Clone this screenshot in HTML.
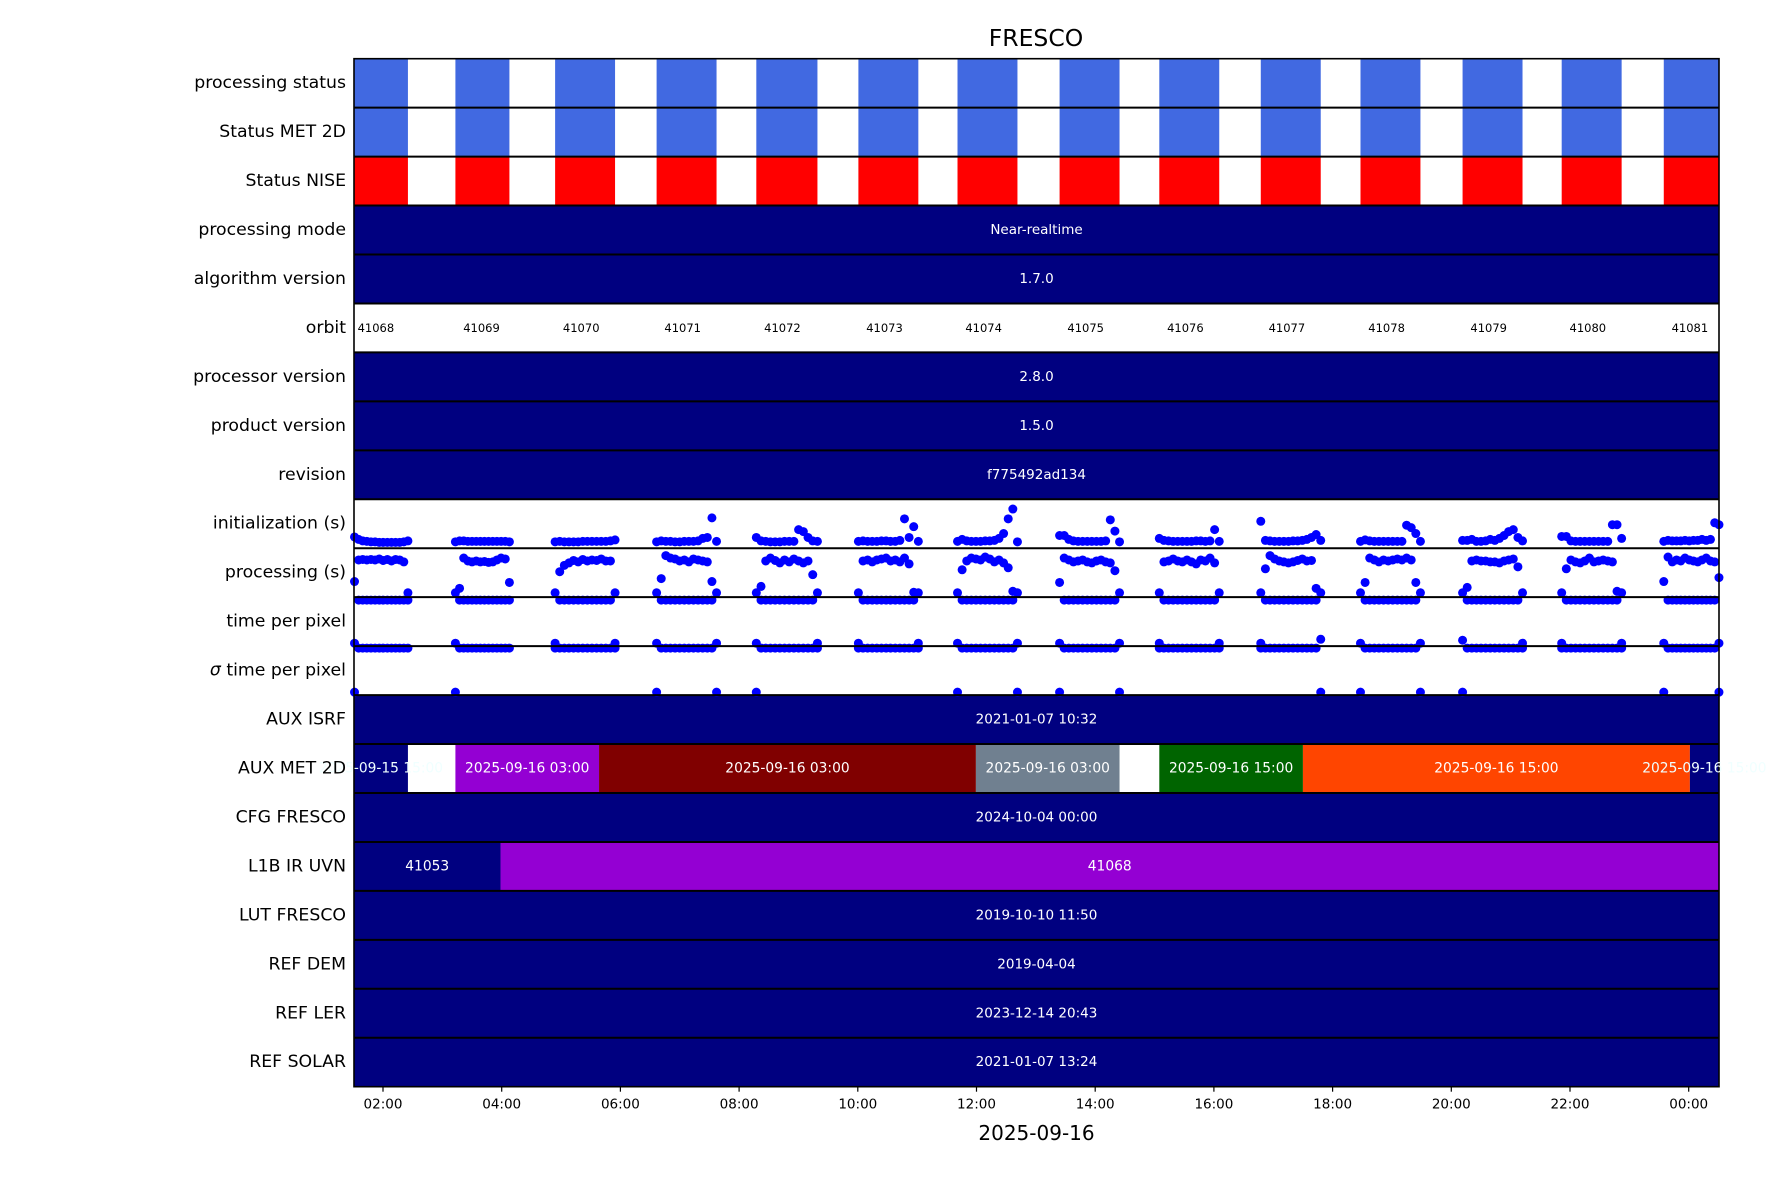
<!DOCTYPE html>
<html><head><meta charset="utf-8">
<style>
html,body{margin:0;padding:0;background:#fff;}
svg{display:block;font-family:"DejaVu Sans","Liberation Sans",sans-serif;}
</style></head>
<body>
<svg id="chart" width="1771" height="1181" viewBox="0 0 1771 1181" xmlns="http://www.w3.org/2000/svg">
<defs><clipPath id="plotclip"><rect x="354" y="58.7" width="1365" height="1028"/></clipPath></defs>
<text x="1036" y="46" font-size="23.5" text-anchor="middle">FRESCO</text>
<g id="bars" clip-path="url(#plotclip)"></g>
<g id="dots"></g>
<g id="overlay"></g>
</svg>
<script>
const rowLabels = ["processing status","Status MET 2D","Status NISE","processing mode","algorithm version","orbit","processor version","product version","revision","initialization (s)","processing (s)","time per pixel","σ time per pixel","AUX ISRF","AUX MET 2D","CFG FRESCO","L1B IR UVN","LUT FRESCO","REF DEM","REF LER","REF SOLAR"];
const tickHours = [2,4,6,8,10,12,14,16,18,20,22,24];
const tickLabels = ["02:00","04:00","06:00","08:00","10:00","12:00","14:00","16:00","18:00","20:00","22:00","00:00"];
const orbitNumbers = [41068,41069,41070,41071,41072,41073,41074,41075,41076,41077,41078,41079,41080,41081];
const orbitStarts = [1.42,3.22,4.90,6.61,8.29,10.01,11.68,13.40,15.08,16.79,18.47,20.19,21.86,23.58];
const orbitEnds = [2.42,4.13,5.91,7.62,9.32,11.02,12.69,14.41,16.09,17.80,19.48,21.20,22.87,24.57];
const singleRows = [[3,"Near-realtime"],[4,"1.7.0"],[6,"2.8.0"],[7,"1.5.0"],[8,"f775492ad134"],[13,"2021-01-07 10:32"],[15,"2024-10-04 00:00"],[17,"2019-10-10 11:50"],[18,"2019-04-04"],[19,"2023-12-14 20:43"],[20,"2021-01-07 13:24"]];
const metStarts = [1.42,3.22,5.64,11.99,15.08,17.50,24.02];
const metEnds = [2.42,5.64,11.99,14.41,17.50,24.02,24.60];
const metLabels = ["2025-09-15 15:00","2025-09-16 03:00","2025-09-16 03:00","2025-09-16 03:00","2025-09-16 15:00","2025-09-16 15:00","2025-09-16 15:00"];
const metColors = ["#000080","#9400d3","#800000","#708090","#006400","#ff4500","#000080"];
const l1bStarts = [1.42,3.98];
const l1bEnds = [3.98,24.60];
const l1bLabels = ["41053","41068"];
const l1bColors = ["#000080","#9400d3"];
const sampleFrac = [0,0.077,0.154,0.231,0.308,0.385,0.462,0.538,0.615,0.692,0.769,0.846,0.923,1];
const initVals = [
[.23,.18,.15,.14,.13,.13,.12,.12,.12,.12,.12,.12,.13,.15],
[.13,.15,.15,.14,.14,.14,.14,.14,.14,.14,.14,.14,.14,.13],
[.13,.14,.13,.13,.13,.13,.14,.14,.14,.14,.14,.14,.15,.17],
[.13,.15,.14,.14,.13,.13,.14,.14,.14,.15,.20,.22,.62,.14],
[.22,.15,.14,.13,.13,.13,.14,.14,.14,.38,.34,.22,.15,.14],
[.14,.15,.14,.14,.14,.15,.15,.14,.14,.16,.60,.22,.44,.14],
[.14,.18,.15,.14,.14,.14,.15,.15,.16,.20,.30,.60,.80,.13],
[.26,.26,.18,.15,.14,.14,.14,.14,.14,.14,.15,.58,.35,.13],
[.20,.16,.15,.14,.14,.14,.14,.14,.15,.15,.14,.15,.38,.14],
[.55,.16,.15,.14,.14,.14,.14,.15,.15,.16,.18,.22,.28,.16],
[.14,.17,.15,.14,.14,.14,.14,.14,.14,.14,.47,.42,.30,.14],
[.16,.16,.18,.14,.14,.15,.18,.16,.20,.26,.34,.38,.22,.15],
[.24,.24,.15,.14,.14,.14,.14,.14,.14,.14,.14,.48,.48,.20],
[.14,.16,.15,.15,.15,.16,.15,.16,.16,.18,.16,.18,.52,.48]];
const procVals = [
[.32,.76,.77,.76,.77,.76,.78,.75,.77,.74,.77,.76,.72,.09],
[.09,.18,.80,.74,.72,.74,.72,.73,.71,.72,.76,.80,.78,.30],
[.09,.52,.65,.70,.75,.72,.77,.74,.76,.75,.78,.74,.74,.09],
[.09,.38,.85,.80,.78,.74,.76,.72,.78,.76,.74,.72,.32,.09],
[.09,.22,.74,.80,.75,.70,.76,.72,.78,.74,.70,.74,.46,.09],
[.09,.74,.76,.72,.76,.78,.80,.74,.76,.72,.80,.68,.10,.09],
[.09,.56,.74,.80,.78,.76,.82,.78,.72,.76,.70,.60,.12,.09],
[.30,.80,.76,.72,.74,.76,.72,.70,.74,.76,.72,.70,.54,.09],
[.09,.72,.74,.78,.74,.72,.76,.72,.68,.76,.74,.80,.70,.09],
[.09,.58,.85,.78,.74,.72,.70,.72,.75,.78,.74,.75,.18,.09],
[.09,.30,.80,.76,.72,.76,.74,.76,.78,.76,.80,.76,.30,.09],
[.09,.20,.74,.76,.74,.74,.72,.72,.70,.74,.76,.78,.62,.09],
[.09,.58,.76,.72,.70,.74,.80,.72,.74,.76,.74,.72,.12,.09],
[.32,.82,.72,.76,.74,.80,.76,.74,.72,.76,.80,.74,.72,.40]];
const tppVals = [
[.06,.94,.94,.94,.94,.94,.94,.94,.94,.94,.94,.94,.94,.94],
[.06,.94,.94,.94,.94,.94,.94,.94,.94,.94,.94,.94,.94,.94],
[.06,.94,.94,.94,.94,.94,.94,.94,.94,.94,.94,.94,.94,.06],
[.06,.94,.94,.94,.94,.94,.94,.94,.94,.94,.94,.94,.94,.06],
[.06,.94,.94,.94,.94,.94,.94,.94,.94,.94,.94,.94,.94,.06],
[.06,.94,.94,.94,.94,.94,.94,.94,.94,.94,.94,.94,.94,.06],
[.06,.94,.94,.94,.94,.94,.94,.94,.94,.94,.94,.94,.94,.06],
[.06,.94,.94,.94,.94,.94,.94,.94,.94,.94,.94,.94,.94,.06],
[.06,.94,.94,.94,.94,.94,.94,.94,.94,.94,.94,.94,.94,.06],
[.06,.94,.94,.94,.94,.94,.94,.94,.94,.94,.94,.94,.94,.14],
[.06,.94,.94,.94,.94,.94,.94,.94,.94,.94,.94,.94,.94,.06],
[.12,.94,.94,.94,.94,.94,.94,.94,.94,.94,.94,.94,.94,.06],
[.06,.94,.94,.94,.94,.94,.94,.94,.94,.94,.94,.94,.94,.06],
[.06,.94,.94,.94,.94,.94,.94,.94,.94,.94,.94,.94,.94,.06]];
const sigmaVals = [
[.06,.96,.96,.96,.96,.96,.96,.96,.96,.96,.96,.96,.96,.96],
[.06,.96,.96,.96,.96,.96,.96,.96,.96,.96,.96,.96,.96,.96],
[.96,.96,.96,.96,.96,.96,.96,.96,.96,.96,.96,.96,.96,.96],
[.06,.96,.96,.96,.96,.96,.96,.96,.96,.96,.96,.96,.96,.06],
[.06,.96,.96,.96,.96,.96,.96,.96,.96,.96,.96,.96,.96,.96],
[.96,.96,.96,.96,.96,.96,.96,.96,.96,.96,.96,.96,.96,.96],
[.06,.96,.96,.96,.96,.96,.96,.96,.96,.96,.96,.96,.96,.06],
[.06,.96,.96,.96,.96,.96,.96,.96,.96,.96,.96,.96,.96,.06],
[.96,.96,.96,.96,.96,.96,.96,.96,.96,.96,.96,.96,.96,.96],
[.96,.96,.96,.96,.96,.96,.96,.96,.96,.96,.96,.96,.96,.06],
[.06,.96,.96,.96,.96,.96,.96,.96,.96,.96,.96,.96,.96,.06],
[.06,.96,.96,.96,.96,.96,.96,.96,.96,.96,.96,.96,.96,.96],
[.96,.96,.96,.96,.96,.96,.96,.96,.96,.96,.96,.96,.96,.96],
[.06,.96,.96,.96,.96,.96,.96,.96,.96,.96,.96,.96,.96,.06]];

const NS="http://www.w3.org/2000/svg";
const PL=354, PR=1719, PT=58.7, PB=1086.7, RH=(PB-PT)/21;
function xScale(t){return 383+(t-2)*59.35;}
function rowTop(i){return PT+i*RH;}
function yRow(i,v){return rowTop(i)+RH-v*RH;}
function mk(tag,attrs,parent){const e=document.createElementNS(NS,tag);for(const k in attrs)e.setAttribute(k,attrs[k]);parent.appendChild(e);return e;}
const bars=document.getElementById('bars'), dots=document.getElementById('dots'), ov=document.getElementById('overlay');

function seg(row,t0,t1,color,name){
  const x0=Math.max(xScale(t0),PL-2), x1=Math.min(xScale(t1),PR+2);
  const r=mk('rect',{x:x0,y:rowTop(row),width:x1-x0,height:RH,fill:color},bars);
  
  
}
function label(x,y,txt,fill,size,name){
  const t=mk('text',{x:x,y:y,'font-size':size,'text-anchor':'middle','dominant-baseline':'central',fill:fill},ov);
  t.textContent=txt;
  
  
}
const statusColors=["#4169e1","#4169e1","#ff0000"];
for(let r=0;r<3;r++){
  for(let i=0;i<orbitStarts.length;i++){
    seg(r,orbitStarts[i],orbitEnds[i],statusColors[r],'status-block');
  }
}
singleRows.forEach(([r,txt])=>{
  seg(r,1.0,25,"#000080",'value-bar');
});
for(let i=0;i<metStarts.length;i++) seg(14,metStarts[i],metEnds[i],metColors[i],'aux-met-segment');
for(let i=0;i<l1bStarts.length;i++) seg(16,l1bStarts[i],l1bEnds[i],l1bColors[i],'l1b-segment');

const scatterSets=[[9,initVals],[10,procVals],[11,tppVals],[12,sigmaVals]];
scatterSets.forEach(([row,vals])=>{
  for(let o=0;o<orbitStarts.length;o++){
    const s=Math.max(orbitStarts[o],1.52), e=Math.min(orbitEnds[o],24.51);
    vals[o].forEach((v,k)=>{
      const t=s+sampleFrac[k]*(e-s);
      const c=mk('circle',{cx:xScale(t),cy:yRow(row,v),r:4.5,fill:"#0000ff"},dots);
      
      
    });
  }
});

for(let i=1;i<21;i++){
  const l=mk('line',{x1:PL,x2:PR,y1:rowTop(i),y2:rowTop(i),stroke:"#000","stroke-width":2},ov);
  
  
}
const frame=mk('rect',{x:PL,y:PT,width:PR-PL,height:PB-PT,fill:"none",stroke:"#000","stroke-width":1.6},ov);



const midX=(PL+PR)/2;
singleRows.forEach(([r,txt])=>label(midX,rowTop(r)+RH/2,txt,"#fff",13.5,'bar-value-label'));
for(let i=0;i<metStarts.length;i++){
  const a=Math.max(metStarts[i],1.51), b=Math.min(metEnds[i],24.51);
  const col=(i===0||i===metStarts.length-1)?"#f0ffff":"#fff";
  label(xScale((a+b)/2),rowTop(14)+RH/2,metLabels[i],col,13.8,'aux-met-label');
}
for(let i=0;i<l1bStarts.length;i++){
  const a=Math.max(l1bStarts[i],1.51), b=Math.min(l1bEnds[i],24.51);
  label(xScale((a+b)/2),rowTop(16)+RH/2,l1bLabels[i],"#fff",13.8,'l1b-label');
}
for(let i=0;i<orbitNumbers.length;i++){
  label(xScale(orbitStarts[i]+0.44+(i===0?0.02:0)),rowTop(5)+RH/2,String(orbitNumbers[i]),"#000",11.5,'orbit-number');
}
rowLabels.forEach((txt,i)=>{
  const t=mk('text',{x:346,y:rowTop(i)+RH/2,'font-size':17.3,'text-anchor':'end','dominant-baseline':'central',fill:"#000"},ov);
  if(txt.startsWith("σ")){
    const a=document.createElementNS(NS,'tspan');a.setAttribute('font-style','italic');a.textContent="σ";t.appendChild(a);
    const b=document.createElementNS(NS,'tspan');b.textContent=txt.slice(1);t.appendChild(b);
  } else t.textContent=txt;
  
  
});
tickHours.forEach((h,i)=>{
  const x=xScale(h);
  const l=mk('line',{x1:x,x2:x,y1:PB,y2:PB+5,stroke:"#000","stroke-width":1.2},ov);
  
  
  const t=mk('text',{x:x,y:PB+22,'font-size':13.5,'text-anchor':'middle',fill:"#000"},ov);
  t.textContent=tickLabels[i];
  
  
});
const xl=mk('text',{x:midX,y:1140,'font-size':20,'text-anchor':'middle',fill:"#000"},ov);
xl.textContent="2025-09-16";


</script>
</body></html>
